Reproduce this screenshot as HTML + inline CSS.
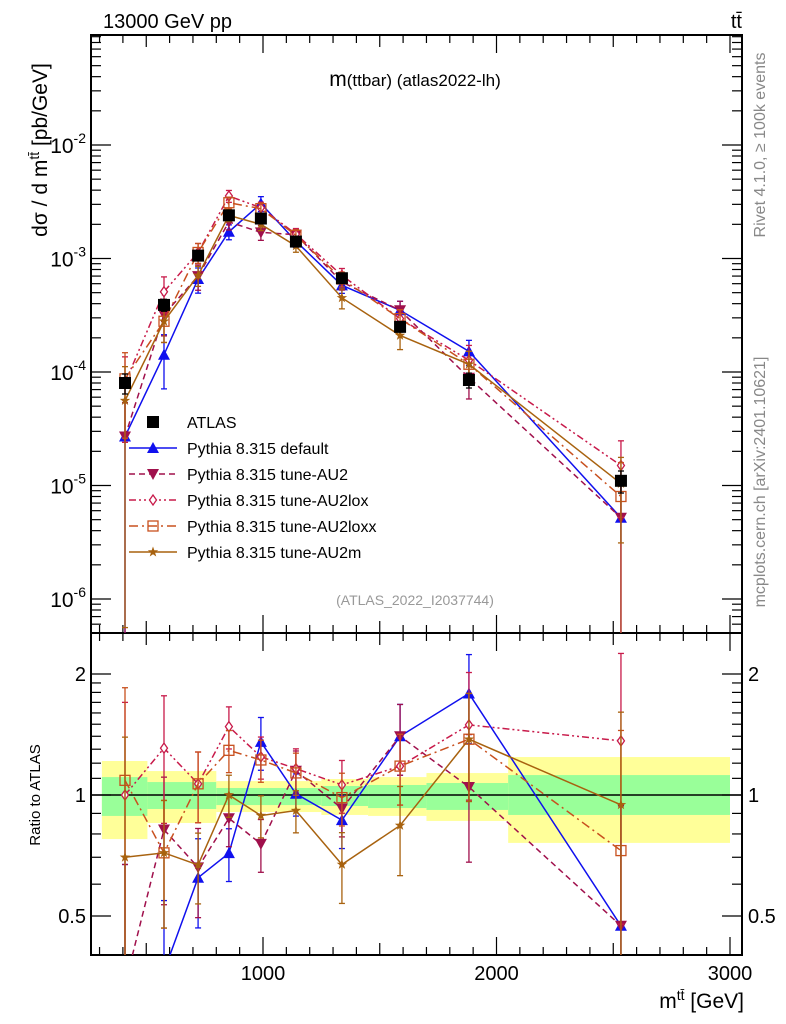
<!DOCTYPE html>
<html><head><meta charset="utf-8"><style>
html,body{margin:0;padding:0;background:#fff;overflow:hidden;width:786px;height:1024px;}
svg{display:block;font-family:"Liberation Sans",sans-serif;overflow:hidden;}
</style></head><body>
<svg id="c" width="786" height="1024" viewBox="0 0 786 1024" xmlns="http://www.w3.org/2000/svg">
<defs>
<clipPath id="cm"><rect x="91" y="35" width="651" height="598"/></clipPath>
<clipPath id="cr"><rect x="91" y="633" width="651" height="322"/></clipPath>
</defs>
<g id="bands" clip-path="url(#cr)"></g>
<line x1="91" y1="795" x2="742" y2="795" stroke="#000" stroke-width="1.5"/>
<g id="ax"></g>
<g id="mainS" clip-path="url(#cm)"></g>
<g id="ratioS" clip-path="url(#cr)"></g>
<g id="leg"></g>
<text x="103" y="28" font-size="20">13000 GeV pp</text>
<text x="742" y="28" font-size="20" text-anchor="end">tt̄</text>
<text x="415" y="86" font-size="17" text-anchor="middle"><tspan font-size="21">m</tspan>(ttbar) (atlas2022-lh)</text>
<text x="415" y="605" font-size="14" fill="#999" text-anchor="middle">(ATLAS_2022_I2037744)</text>
<text transform="translate(47,150) rotate(-90)" font-size="21" text-anchor="middle">dσ / d m<tspan dy="-8" font-size="14">tt̄</tspan><tspan dy="8"> [pb/GeV]</tspan></text>
<text transform="translate(40,795) rotate(-90)" font-size="15" text-anchor="middle">Ratio to ATLAS</text>
<text x="744" y="1008" font-size="21" text-anchor="end">m<tspan dy="-8" font-size="14">tt̄</tspan><tspan dy="8"> [GeV]</tspan></text>
<text transform="translate(765,145) rotate(-90)" font-size="16" fill="#888" text-anchor="middle">Rivet 4.1.0, ≥ 100k events</text>
<text transform="translate(765,482) rotate(-90)" font-size="16" fill="#888" text-anchor="middle">mcplots.cern.ch [arXiv:2401.10621]</text>
</svg>
<script>
const xs=[409,576,722,854,991,1141,1338,1587,1882,2533];
const atlas=[8.0e-5,3.9e-4,1.06e-3,2.4e-3,2.25e-3,1.41e-3,6.7e-4,2.5e-4,8.5e-5,1.1e-5];
const atlasErr=[0.2,0.12,0.08,0.08,0.08,0.07,0.08,0.1,0.15,0.22];
const sDefault=[2.7e-5,1.42e-4,6.6e-4,1.72e-3,3.05e-3,1.42e-3,5.8e-4,3.5e-4,1.52e-4,5.2e-6];
const sAU2=[2.7e-5,3.2e-4,7.0e-4,2.1e-3,1.7e-3,1.62e-3,6.2e-4,3.5e-4,8.9e-5,5.2e-6];
const sAU2lox=[8.0e-5,5.1e-4,1.13e-3,3.55e-3,2.8e-3,1.64e-3,7.1e-4,2.95e-4,1.27e-4,1.5e-5];
const sAU2loxx=[8.7e-5,2.8e-4,1.13e-3,3.1e-3,2.75e-3,1.6e-3,6.6e-4,2.95e-4,1.17e-4,8.0e-6];
const sAU2m=[5.6e-5,2.8e-4,7.1e-4,2.4e-3,2.0e-3,1.29e-3,4.5e-4,2.1e-4,1.17e-4,1.04e-5];
const eDefault=[0.99,0.5,0.25,0.15,0.15,0.12,0.15,0.2,0.25,0.99];
const eAU2=[0.99,0.35,0.25,0.15,0.15,0.12,0.15,0.2,0.35,0.99];
const eAU2lox=[0.7,0.35,0.2,0.12,0.12,0.12,0.15,0.2,0.35,0.65];
const eAU2loxx=[0.7,0.35,0.2,0.12,0.12,0.12,0.15,0.2,0.3,0.99];
const eAU2m=[0.99,0.35,0.2,0.12,0.12,0.12,0.2,0.25,0.3,0.7];
const bandEdges=[310,505,800,1250,1450,1700,2050,3000];
const yelHi=[1.215,1.147,1.083,1.096,1.108,1.134,1.243];
const yelLo=[0.777,0.852,0.907,0.892,0.887,0.862,0.76];
const grnHi=[1.108,1.077,1.041,1.053,1.059,1.071,1.121];
const grnLo=[0.887,0.923,0.944,0.939,0.928,0.918,0.892];
const xTicks=[1000,2000,3000];
const yTickExp=[-2,-3,-4,-5,-6];
const rTicks=[2,1,0.5];

const NS='http://www.w3.org/2000/svg';
function X(v){return 263+(v-1000)*0.2335;}
function Y(v){return 145-(Math.log10(v)+2)*113.5;}
function R(r){return 795-Math.log2(r)*121;}
function clamp(v,a,b){return Math.max(a,Math.min(b,v));}
function mk(p,tag,a){const e=document.createElementNS(NS,tag);for(const k in a)e.setAttribute(k,a[k]);p.appendChild(e);return e;}
const ax=document.getElementById('ax'),bands=document.getElementById('bands');
for(let i=0;i<yelHi.length;i++){
 const x0=X(bandEdges[i]),x1=X(bandEdges[i+1]);
 const y=mk(bands,'rect',{x:x0,y:R(yelHi[i]),width:x1-x0,height:R(yelLo[i])-R(yelHi[i]),fill:'#ffff99'});
 
 
 const g=mk(bands,'rect',{x:x0,y:R(grnHi[i]),width:x1-x0,height:R(grnLo[i])-R(grnHi[i]),fill:'#99ff99'});
 
 
}
const f1=mk(ax,'rect',{x:91,y:35,width:651,height:598,fill:'none',stroke:'#000','stroke-width':2});


const f2=mk(ax,'rect',{x:91,y:633,width:651,height:322,fill:'none',stroke:'#000','stroke-width':2});


for(let v=300;v<=3000;v+=100){
 const x=X(v);const L=(v%500===0)?(v%1000===0?18:12):8;
 for(const [top,bot] of [[35,633],[633,955]]){
  mk(ax,'line',{x1:x,y1:bot,x2:x,y2:bot-L,stroke:'#000','stroke-width':1.2});
  mk(ax,'line',{x1:x,y1:top,x2:x,y2:top+L,stroke:'#000','stroke-width':1.2});
 }
}
xTicks.forEach(v=>{const t=mk(ax,'text',{x:X(v),y:980,'font-size':20,'text-anchor':'middle'});t.textContent=v;
 
 });
for(let e=-7;e<=-1;e++){for(let m=1;m<10;m++){const v=m*Math.pow(10,e);const y=Y(v);if(y<35||y>633)continue;const L=m===1?20:10;
 mk(ax,'line',{x1:91,y1:y,x2:91+L,y2:y,stroke:'#000','stroke-width':1.2});
 mk(ax,'line',{x1:742,y1:y,x2:742-L,y2:y,stroke:'#000','stroke-width':1.2});}}
yTickExp.forEach(e=>{const t=mk(ax,'text',{x:86,y:Y(Math.pow(10,e))+8,'font-size':21,'text-anchor':'end'});
 t.innerHTML='10<tspan dy="-10" font-size="14">'+e+'</tspan>';
 
 });
[0.5,0.6,0.7,0.8,0.9,1,1.1,1.2,1.3,1.4,1.5,1.6,1.7,1.8,1.9,2].forEach(r=>{const y=R(r);const L=(r===0.5||r===1||r===2)?20:10;
 mk(ax,'line',{x1:91,y1:y,x2:91+L,y2:y,stroke:'#000','stroke-width':1.2});
 mk(ax,'line',{x1:742,y1:y,x2:742-L,y2:y,stroke:'#000','stroke-width':1.2});});
rTicks.forEach(r=>{for(const [x,a] of [[86,'end'],[748,'start']]){const t=mk(ax,'text',{x:x,y:R(r)+7,'font-size':20,'text-anchor':a});t.textContent=r;
 
 }});
function marker(p,type,x,y,col){
 if(type==='sq')return mk(p,'rect',{x:x-6,y:y-6,width:12,height:12,fill:'#000'});
 if(type==='up')return mk(p,'polygon',{points:`${x},${y-6} ${x-6},${y+5} ${x+6},${y+5}`,fill:col});
 if(type==='dn')return mk(p,'polygon',{points:`${x},${y+6} ${x-6},${y-5} ${x+6},${y-5}`,fill:col});
 if(type==='dia')return mk(p,'polygon',{points:`${x},${y-5} ${x+3.5},${y} ${x},${y+5} ${x-3.5},${y}`,fill:'#fff',stroke:col,'stroke-width':1.3});
 if(type==='osq')return mk(p,'rect',{x:x-5,y:y-5,width:10,height:10,fill:'none',stroke:col,'stroke-width':1.3});
 if(type==='star'){let pts=[];for(let i=0;i<10;i++){const a=-Math.PI/2+i*Math.PI/5,r=i%2?2.2:5.5;pts.push((x+r*Math.cos(a))+','+(y+r*Math.sin(a)));}return mk(p,'polygon',{points:pts.join(' '),fill:col});}
}
const series=[
 {name:'Pythia 8.315 default',vals:sDefault,err:eDefault,col:'#1010ee',dash:'',m:'up',id:'default'},
 {name:'Pythia 8.315 tune-AU2',vals:sAU2,err:eAU2,col:'#a0104c',dash:'6,4',m:'dn',id:'au2'},
 {name:'Pythia 8.315 tune-AU2lox',vals:sAU2lox,err:eAU2lox,col:'#c81a4a',dash:'7,3,2,3,2,3',m:'dia',id:'au2lox'},
 {name:'Pythia 8.315 tune-AU2loxx',vals:sAU2loxx,err:eAU2loxx,col:'#c8501e',dash:'9,4,2,4',m:'osq',id:'au2loxx'},
 {name:'Pythia 8.315 tune-AU2m',vals:sAU2m,err:eAU2m,col:'#a8620f',dash:'',m:'star',id:'au2m'}
];
const mainS=document.getElementById('mainS'),ratioS=document.getElementById('ratioS');
function errbar(p,x,y1,y2,col,top,bot){
 const c1=clamp(y1,top-5,bot+5),c2=clamp(y2,top-5,bot+5);
 mk(p,'line',{x1:x,y1:c1,x2:x,y2:c2,stroke:col,'stroke-width':1.3});
 if(y1>=top&&y1<=bot)mk(p,'line',{x1:x-3,y1:y1,x2:x+3,y2:y1,stroke:col,'stroke-width':1.3});
 if(y2>=top&&y2<=bot)mk(p,'line',{x1:x-3,y1:y2,x2:x+3,y2:y2,stroke:col,'stroke-width':1.3});}
function clampPts(vals,f,top,bot){return vals.map((v,i)=>X(xs[i])+','+clamp(f(v,i),top-200,bot+200)).join(' ');}
series.forEach(s=>{
 const gm=mk(mainS,'g',{});
 
 
 const gr=mk(ratioS,'g',{});
 
 
 const pm=s.vals.map((v,i)=>X(xs[i])+','+Y(v)).join(' ');
 const pr=s.vals.map((v,i)=>X(xs[i])+','+R(v/atlas[i])).join(' ');
 mk(gm,'polyline',{points:pm,fill:'none',stroke:s.col,'stroke-width':1.5,'stroke-dasharray':s.dash});
 mk(gr,'polyline',{points:pr,fill:'none',stroke:s.col,'stroke-width':1.5,'stroke-dasharray':s.dash});
 s.vals.forEach((v,i)=>{const x=X(xs[i]);const e=s.err[i];
  errbar(gm,x,Y(v*(1+e)),Y(Math.max(v*(1-e),1e-9)),s.col,35,633);
  const r=v/atlas[i];errbar(gr,x,R(r*(1+e)),R(Math.max(r*(1-e),1e-9)),s.col,633,955);
  const ym=Y(v);
  if(ym>=35&&ym<=633){const a=marker(gm,s.m,x,ym,s.col);
  
  }
  const yr=R(r);
  if(yr>=633&&yr<=955){const b=marker(gr,s.m,x,yr,s.col);
  
  }
 });
});
const ga=mk(mainS,'g',{});


atlas.forEach((v,i)=>{const x=X(xs[i]);errbar(ga,x,Y(v*(1+atlasErr[i])),Y(v*(1-atlasErr[i])),'#000',35,633);
 const m=marker(ga,'sq',x,Y(v),'#000');
 
 });
const leg=document.getElementById('leg');
const rows=[{name:'ATLAS',m:'sq',col:'#000'}].concat(series);
rows.forEach((s,i)=>{const y=422+i*26;
 const g=mk(leg,'g',{});
 
 
 if(i>0)mk(g,'line',{x1:129,y1:y,x2:177,y2:y,stroke:s.col,'stroke-width':1.5,'stroke-dasharray':s.dash});
 marker(g,s.m,153,y,s.col);
 const t=mk(g,'text',{x:187,y:y+6,'font-size':16});t.textContent=s.name;});
</script>
</body></html>
